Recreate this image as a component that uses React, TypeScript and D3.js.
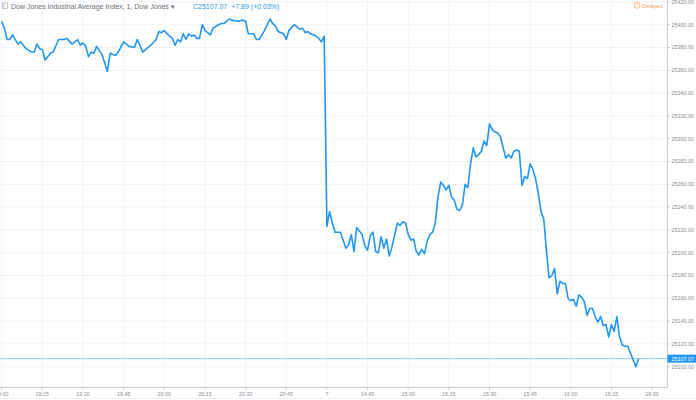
import * as d3 from "d3";

const svg_width = 696;
const svg_height = 400;
const plot_right = 667;
const axis_y = 387.5;

// evening session (19:00 - 20:59)
const session1Times = [
    "19:00", "19:01", "19:02", "19:03", "19:04", "19:06", "19:07", "19:09", "19:11", "19:12",
    "19:13", "19:14", "19:15", "19:16", "19:18", "19:19", "19:21", "19:23", "19:24", "19:26",
    "19:28", "19:29", "19:30", "19:31", "19:32", "19:33", "19:34", "19:35", "19:37", "19:39",
    "19:40", "19:42", "19:43", "19:45", "19:47", "19:49", "19:50", "19:51", "19:52", "19:53",
    "19:55", "19:57", "19:58", "19:59", "20:00", "20:01", "20:03", "20:04", "20:05", "20:06",
    "20:07", "20:08", "20:09", "20:10", "20:11", "20:12", "20:13", "20:14", "20:15", "20:17",
    "20:18", "20:20", "20:21", "20:22", "20:24", "20:25", "20:27", "20:29", "20:30", "20:31",
    "20:33", "20:34", "20:35", "20:37", "20:39", "20:40", "20:41", "20:42", "20:44", "20:45",
    "20:46", "20:48", "20:49", "20:50", "20:51", "20:52", "20:53", "20:54", "20:56", "20:57",
    "20:58", "20:59",
];
const session1Prices = [
    25403, 25397, 25387, 25387, 25391, 25383, 25385, 25379, 25376, 25376,
    25383, 25379, 25378, 25369, 25375, 25376, 25387, 25387, 25388, 25383,
    25387, 25382, 25384, 25381, 25372, 25376, 25375, 25381, 25374, 25359,
    25375, 25373, 25376, 25385, 25381, 25380, 25387, 25382, 25376, 25378,
    25382, 25387, 25394, 25393, 25395, 25392, 25388, 25382, 25387, 25385,
    25392, 25387, 25392, 25390, 25391, 25388, 25388, 25400, 25395, 25391,
    25397, 25400, 25401, 25401, 25405, 25404, 25403, 25404, 25403, 25392,
    25392, 25387, 25387, 25395, 25405, 25401, 25399, 25394, 25392, 25387,
    25395, 25400, 25398, 25396, 25397, 25393, 25394, 25392, 25390, 25388,
    25385, 25390,
];

// next day (14:30 - 16:25)
const session2Times = [
    "14:30", "14:31", "14:32", "14:33", "14:35", "14:36", "14:37", "14:38", "14:39", "14:40",
    "14:41", "14:42", "14:43", "14:44", "14:45", "14:46", "14:47", "14:48", "14:49", "14:50",
    "14:51", "14:52", "14:53", "14:54", "14:56", "14:57", "14:58", "14:59", "15:00", "15:01",
    "15:02", "15:03", "15:04", "15:05", "15:06", "15:07", "15:08", "15:09", "15:10", "15:11",
    "15:12", "15:13", "15:14", "15:15", "15:16", "15:17", "15:18", "15:19", "15:20", "15:21",
    "15:22", "15:23", "15:24", "15:25", "15:26", "15:27", "15:28", "15:29", "15:30", "15:31",
    "15:32", "15:33", "15:34", "15:36", "15:37", "15:38", "15:39", "15:40", "15:41", "15:42",
    "15:43", "15:44", "15:45", "15:46", "15:47", "15:48", "15:49", "15:50", "15:51", "15:52",
    "15:53", "15:54", "15:55", "15:56", "15:57", "15:58", "15:59", "16:00", "16:01", "16:02",
    "16:03", "16:04", "16:05", "16:06", "16:07", "16:08", "16:09", "16:10", "16:11", "16:12",
    "16:13", "16:14", "16:15", "16:16", "16:17", "16:18", "16:19", "16:20", "16:21", "16:22",
    "16:24", "16:25",
];
const session2Prices = [
    25223, 25236, 25226, 25218, 25218, 25211, 25204, 25207, 25216, 25201,
    25222, 25219, 25216, 25206, 25202, 25215, 25218, 25201, 25200, 25214,
    25204, 25212, 25197, 25205, 25226, 25224, 25227, 25226, 25216, 25211,
    25212, 25201, 25198, 25203, 25199, 25210, 25216, 25218, 25226, 25249,
    25262, 25259, 25255, 25259, 25249, 25246, 25238, 25237, 25242, 25260,
    25257, 25278, 25292, 25284, 25286, 25289, 25298, 25294, 25313, 25308,
    25306, 25305, 25302, 25283, 25286, 25283, 25289, 25290, 25289, 25259,
    25267, 25265, 25278, 25273, 25265, 25252, 25236, 25230, 25202, 25178,
    25180, 25186, 25164, 25175, 25173, 25173, 25160, 25158, 25159, 25153,
    25163, 25161, 25157, 25145, 25151, 25151, 25144, 25139, 25144, 25136,
    25137, 25126, 25137, 25131, 25144, 25126, 25119, 25118, 25118, 25112,
    25100, 25107.07,
];

const xTickTimes = [
    "19:00", "19:15", "19:30", "19:45", "20:00", "20:15", "20:30", "20:45",
    "14:30", "14:45", "15:00", "15:15", "15:30", "15:45", "16:00", "16:15", "16:30",
];
const xTickLabels = [
    "19:00", "19:15", "19:30", "19:45", "20:00", "20:15", "20:30", "20:45",
    "7", "14:45", "15:00", "15:15", "15:30", "15:45", "16:00", "16:15", "16:30",
];
const yTicks = d3.range(25100, 25421, 20);

const lastPrice = 25107.07;
const titleText = "Dow Jones Industrial Average Index, 1, Dow Jones";
const quoteText = "C25107.07  +7.89 (+0.03%)";

// minutes on a continuous bar axis: the evening session runs 120 bars, then the next day opens
const barIndex = (t: string) => {
    const [h, m] = t.split(":").map(Number);
    const mins = h * 60 + m;
    return mins >= 19 * 60 ? mins - 19 * 60 : 120 + mins - (14 * 60 + 30);
};

const points = [
    ...session1Times.map((t, i) => ({ x: barIndex(t), y: session1Prices[i] })),
    ...session2Times.map((t, i) => ({ x: barIndex(t), y: session2Prices[i] })),
];

const blue = "#2196f3";
const grid = "#eef2f8";
const labelColor = "#8a8d93";
const font = "'Liberation Sans', Arial, sans-serif";

export default function App() {
    const x = d3.scaleLinear().domain([0, 240]).range([1.7, 652.1]);
    const y = d3.scaleLinear().domain([25100, 25400]).range([366.7, 24.7]);

    const line = d3.line<{ x: number; y: number }>()
        .x(d => x(d.x))
        .y(d => y(d.y));

    return (
        <svg width={svg_width} height={svg_height}
            style={{ position: "absolute", left: 0, top: 0, background: "white", fontFamily: font }}>
            {/* grid */}
            {yTicks.map(v => (
                <line key={"gy" + v} x1={0} x2={plot_right} y1={y(v)} y2={y(v)} stroke={grid} strokeWidth={1} />
            ))}
            {xTickTimes.map(t => (
                <line key={"gx" + t} x1={x(barIndex(t))} x2={x(barIndex(t))} y1={0} y2={axis_y} stroke={grid} strokeWidth={1} />
            ))}

            {/* last price line */}
            <line x1={0} x2={plot_right} y1={y(lastPrice)} y2={y(lastPrice)} stroke="#90cbf9" strokeWidth={1} />

            {/* series */}
            <path d={line(points) ?? ""} fill="none" stroke={blue} strokeWidth={1.6} strokeLinejoin="round" />

            {/* axes */}
            <line x1={plot_right + 0.5} x2={plot_right + 0.5} y1={0} y2={axis_y} stroke="#c9cbd0" strokeWidth={1} />
            <line x1={0} x2={plot_right + 1} y1={axis_y} y2={axis_y} stroke="#c9cbd0" strokeWidth={1} />
            <line x1={0} x2={svg_width} y1={398.5} y2={398.5} stroke="#eef0f3" strokeWidth={1} />

            {yTicks.map(v => (
                <g key={"yl" + v} transform={`translate(${plot_right}, ${y(v)})`}>
                    <line x1={0} x2={3} stroke="#c9cbd0" />
                    <text x={4.5} dy="0.35em" fontSize={5.4} fill={labelColor}>{v.toFixed(2)}</text>
                </g>
            ))}
            {xTickTimes.map((t, i) => (
                <g key={"xl" + t} transform={`translate(${x(barIndex(t))}, ${axis_y})`}>
                    <line y1={0} y2={2.5} stroke="#c9cbd0" />
                    <text y={8.5} textAnchor="middle" fontSize={5.4} fill={labelColor}>{xTickLabels[i]}</text>
                </g>
            ))}

            {/* last price badge */}
            <rect x={plot_right + 0.5} y={y(lastPrice) - 4} width={svg_width - plot_right} height={8} fill={blue} />
            <text x={plot_right + 4.5} y={y(lastPrice)} dy="0.35em" fontSize={5.4} fill="white">{lastPrice.toFixed(2)}</text>

            {/* header */}
            <rect x={2.5} y={3} width={5} height={5.5} fill="none" stroke="#b4b7bd" strokeWidth={0.8} />
            <line x1={4} x2={4} y1={3.5} y2={8} stroke="#b4b7bd" strokeWidth={0.8} />
            <text x={11} y={8.6} fontSize={7} fill="#6a6d73">{titleText} ▾</text>
            <text x={193} y={8.6} fontSize={7} fill={blue} style={{ whiteSpace: "pre" }}>{quoteText}</text>

            <circle cx={637} cy={5.3} r={3} fill="none" stroke="#f7a35c" strokeWidth={0.8} />
            <text x={637} y={7.3} textAnchor="middle" fontSize={5} fontWeight="bold" fill="#f7a35c">!</text>
            <text x={642} y={7.5} fontSize={5.6} fill="#f7a35c">Delayed</text>
        </svg>
    );
}
